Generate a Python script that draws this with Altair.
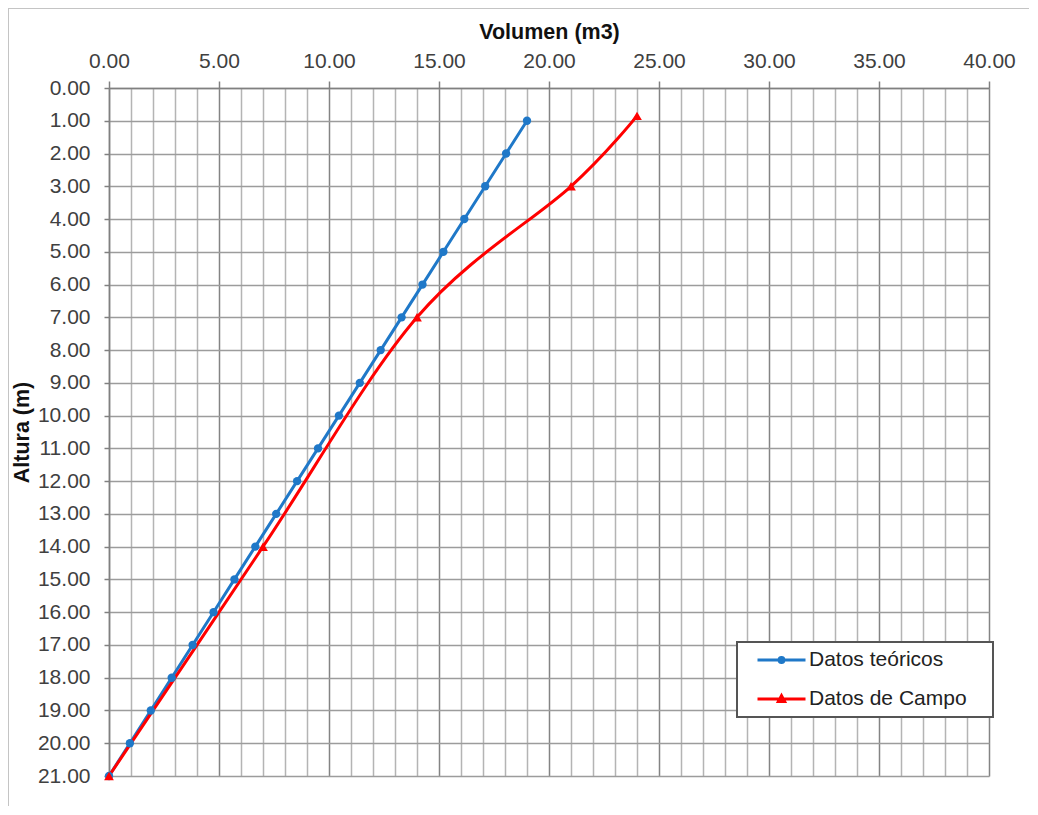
import altair as alt
import pandas as pd

# ---- data ----
series_names = ["Datos teóricos", "Datos de Campo"]

alt_teo = [1, 2, 3, 4, 5, 6, 7, 8, 9, 10, 11, 12, 13, 14, 15, 16, 17, 18, 19, 20, 21]
vol_teo = [19.00, 18.05, 17.10, 16.15, 15.20, 14.25, 13.30, 12.35, 11.40, 10.45,
           9.50, 8.55, 7.60, 6.65, 5.70, 4.75, 3.80, 2.85, 1.90, 0.95, 0.00]

alt_campo = [0.85, 3, 7, 14, 21]
vol_campo = [24.0, 21.0, 14.0, 7.0, 0.0]

x_ticks = list(range(0, 41))
y_ticks = list(range(0, 22))

BLUE = "#1f78c8"
RED = "#ff0000"
FONT = "Liberation Sans"

df_teo = pd.DataFrame({"vol": vol_teo, "alt": alt_teo, "serie": series_names[0]})
df_campo = pd.DataFrame({"vol": vol_campo, "alt": alt_campo, "serie": series_names[1]})
df_all = pd.concat([df_teo, df_campo], ignore_index=True)

major = "datum.value % 5 === 0"

x_enc = alt.X(
    "vol:Q",
    scale=alt.Scale(domain=[0, 40], nice=False, zero=False),
    axis=alt.Axis(
        orient="top",
        values=x_ticks,
        title="Volumen (m3)",
        labelExpr="datum.value % 5 === 0 ? format(datum.value, '.2f') : ''",
        labelFlush=False,
        gridColor={"condition": {"test": major, "value": "#848484"}, "value": "#b4b4b4"},
        gridWidth=1.5,
        tickColor={"condition": {"test": major, "value": "#808080"}, "value": "rgba(0,0,0,0)"},
        tickSize=7,
        tickWidth=1.5,
        domainColor="#808080",
        domainWidth=1.5,
        labelFont=FONT,
        labelFontSize=21,
        labelColor="#404040",
        labelPadding=10,
        labelOverlap=False,
        titleFont=FONT,
        titleFontSize=21.5,
        titleFontWeight="bold",
        titleColor="#111111",
        titlePadding=7,
    ),
)

y_enc = alt.Y(
    "alt:Q",
    scale=alt.Scale(domain=[0, 21], nice=False, zero=False, reverse=True),
    axis=alt.Axis(
        values=y_ticks,
        format=".2f",
        labelFlush=False,
        title="Altura (m)",
        gridColor="#9c9c9c",
        gridWidth=1.5,
        tickColor="#808080",
        tickSize=5,
        tickWidth=1.5,
        domainColor="#808080",
        domainWidth=1.5,
        labelFont=FONT,
        labelFontSize=21,
        labelColor="#404040",
        labelPadding=14,
        labelOverlap=False,
        titleFont=FONT,
        titleFontSize=21.5,
        titleFontWeight="bold",
        titleColor="#111111",
        titlePadding=4,
    ),
)

base_teo = alt.Chart(df_teo)
base_campo = alt.Chart(df_campo)

line_teo = base_teo.mark_line(color=BLUE, strokeWidth=3).encode(
    x=x_enc, y=y_enc, order=alt.Order("alt:Q")
)
line_campo = base_campo.mark_line(color=RED, strokeWidth=3, interpolate="cardinal").encode(
    x=x_enc, y=y_enc, order=alt.Order("alt:Q")
)
pts_teo = base_teo.mark_point(shape="circle", filled=True, size=70, color=BLUE, opacity=1).encode(
    x=x_enc, y=y_enc
)
pts_campo = base_campo.mark_point(shape="triangle-up", filled=True, size=95, color=RED, opacity=1).encode(
    x=x_enc, y=y_enc
)

legend_paths = [
    "M-1,0H1M0.1,0A0.1,0.1,0,1,1,-0.1,0A0.1,0.1,0,1,1,0.1,0",
    "M-1,0H1M0,-0.14L0.13,0.1L-0.13,0.1Z",
]

leg = alt.Legend(
    title=None,
    orient="none",
    legendX=628,
    legendY=554,
    padding=8,
    fillColor="white",
    strokeColor="#555555",
    symbolSize=2304,
    symbolStrokeWidth=3,
    symbolOpacity=1,
    symbolOffset=11,
    clipHeight=20,
    rowPadding=18,
    labelOffset=2,
    labelFont=FONT,
    labelFontSize=21,
    labelColor="#222222",
    labelLimit=400,
    labelExpr="datum.label + '\u00a0\u00a0\u00a0\u200b'",
)

legend_layer = alt.Chart(df_all).mark_point(filled=False, opacity=0, strokeWidth=3).encode(
    x=x_enc,
    y=y_enc,
    color=alt.Color("serie:N", scale=alt.Scale(domain=series_names, range=[BLUE, RED]), legend=leg),
    shape=alt.Shape("serie:N", scale=alt.Scale(domain=series_names, range=legend_paths), legend=leg),
)

frame = alt.Chart(pd.DataFrame({"k": [0]})).mark_rect(
    filled=False, stroke="#c4c4c4", strokeWidth=2
).encode(
    x=alt.value(-101), x2=alt.value(922), y=alt.value(-80), y2=alt.value(722)
)

chart = alt.layer(frame, line_teo, line_campo, pts_teo, pts_campo, legend_layer).properties(
    width=880,
    height=688,
    autosize=alt.AutoSizeParams(type="none"),
    padding={"left": 101, "top": 80, "right": 40, "bottom": 30},
    background="white",
).configure_view(stroke=None).configure_legend(strokeWidth=2)

chart.save("out.html", embed_options={"renderer": "svg", "actions": False})
